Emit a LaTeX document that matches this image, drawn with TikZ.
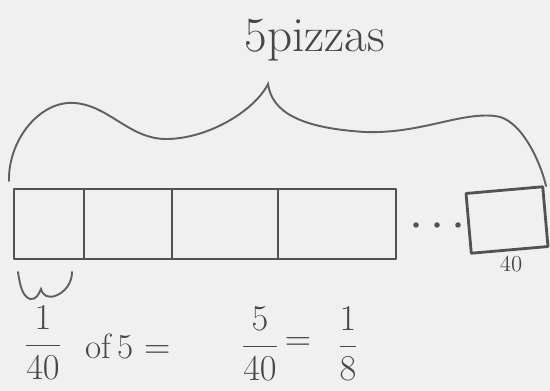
\documentclass[tikz,border=0pt]{standalone}
\usetikzlibrary{positioning}
\tikzset{
  ink/.style   = {draw=black!68, line width=1.6pt, line cap=round, line join=round},
  thin ink/.style = {draw=black!62, line width=1.1pt, line cap=round},
  part/.style  = {ink, rectangle, inner sep=0pt, outer sep=0pt, minimum height=1.4cm},
  dot/.style   = {circle, fill=black!68, inner sep=0pt, minimum size=0.11cm},
  big/.style   = {text=black!72, font=\fontsize{28}{32}\selectfont, inner sep=0pt},
  eqn/.style   = {text=black!72, font=\fontsize{20}{24}\selectfont, inner sep=0pt},
  note/.style  = {text=black!72, font=\fontsize{13}{15}\selectfont, inner sep=0pt},
}

\begin{document}
\begin{tikzpicture}[x=0.02cm, y=-0.02cm]
    \fill[black!6] (0,0) rectangle (550,391);
    \useasboundingbox (0,0) rectangle (550,391);

    % the strip of parts
    \node[part, minimum width=1.40cm] (p1) at (49,224)    {};
    \node[part, minimum width=1.76cm] (p2) at (128,224)   {};
    \node[part, minimum width=2.12cm] (p3) at (225,224)   {};
    \node[part, minimum width=2.36cm] (p4) at (337,224)   {};

    \foreach \i/\x in {1/416, 2/437, 3/458}
      \node[dot] (d\i) at (\x,225) {};

    \node[part, minimum width=1.54cm, minimum height=1.2cm, rotate=5] (last) at (507,220) {};
    \node[note, anchor=north] (n40) at (511,256) {40};

    % brace over the whole strip
    \coordinate (bl)  at (9,181);
    \coordinate (tip) at (268,84);
    \coordinate (br)  at (546,186);
    \draw[thin ink] (bl) .. controls (8,140) and (40,100) .. (75,103)
                         .. controls (110,106) and (130,140) .. (168,139)
                         .. controls (210,138) and (255,110) .. (tip)
                         .. controls (272,112) and (300,128) .. (365,132)
                         .. controls (420,134) and (460,112) .. (495,116)
                         .. controls (520,118) and (540,160) .. (br);
    \node[big] (lbl) at (315,40) {5pizzas};

    % small brace under the first part
    \draw[thin ink] (18,272) .. controls (20,285) and (22,296) .. (30,299)
                    .. controls (36,300) and (39,294) .. (41,289)
                    .. controls (43,296) and (48,298) .. (55,296)
                    .. controls (66,292) and (72,282) .. (72,272);

    % the equation
    \node[eqn] (f1)  at (43,343)  {$\displaystyle\frac{1}{40}$};
    \node[eqn, anchor=base] (of5) at (128,358) {of\,5 $=$};
    \node[eqn] (f2)  at (260,344) {$\displaystyle\frac{5}{40}$};
    \node[eqn] (eq)  at (298,344) {$=$};
    \node[eqn] (f3)  at (348,344) {$\displaystyle\frac{1}{8}$};
  \end{tikzpicture}
\end{document}
